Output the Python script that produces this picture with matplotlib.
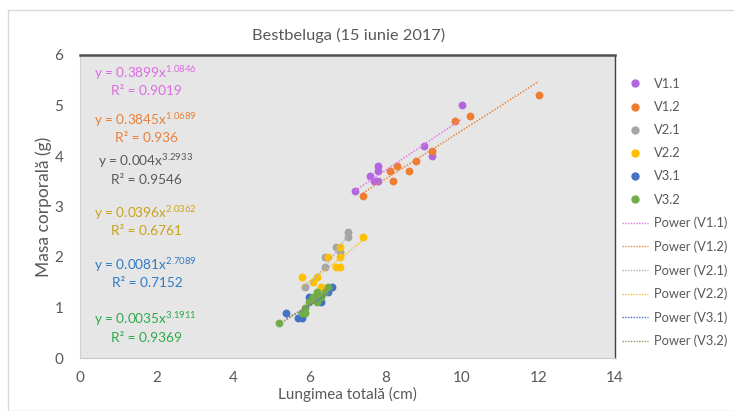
import numpy as np
import matplotlib.pyplot as plt
from matplotlib.patches import Rectangle
from matplotlib.lines import Line2D

plt.rcParams['font.family'] = ['Lato', 'DejaVu Sans']
plt.rcParams['mathtext.fontset'] = 'custom'
plt.rcParams['mathtext.rm'] = 'Lato'
plt.rcParams['mathtext.it'] = 'Lato:italic'

# lungime totala (cm) / masa corporala (g) per lot
v11_x = [7.2, 7.6, 7.7, 7.8, 7.8, 7.8, 9.0, 9.2, 10.0]
v11_y = [3.3, 3.6, 3.5, 3.5, 3.7, 3.8, 4.2, 4.0, 5.0]
v12_x = [7.4, 8.1, 8.2, 8.3, 8.6, 8.8, 9.2, 9.8, 10.2, 12.0]
v12_y = [3.2, 3.7, 3.5, 3.8, 3.7, 3.9, 4.1, 4.7, 4.8, 5.2]
v21_x = [5.9, 6.4, 6.4, 6.7, 6.8, 7.0, 7.0]
v21_y = [1.4, 1.8, 2.0, 2.2, 2.1, 2.4, 2.5]
v22_x = [5.8, 6.1, 6.2, 6.3, 6.5, 6.7, 6.8, 6.8, 6.8, 7.4]
v22_y = [1.6, 1.5, 1.6, 1.4, 2.0, 1.8, 1.8, 2.0, 2.2, 2.4]
v31_x = [5.4, 5.7, 5.8, 6.0, 6.2, 6.3, 6.5, 6.6]
v31_y = [0.9, 0.8, 0.8, 1.2, 1.2, 1.1, 1.3, 1.4]
v32_x = [5.2, 5.8, 5.9, 5.9, 6.0, 6.1, 6.2, 6.2, 6.3, 6.4, 6.5]
v32_y = [0.7, 0.9, 0.9, 1.0, 1.1, 1.2, 1.3, 1.1, 1.2, 1.3, 1.4]

names = ['V1.1', 'V1.2', 'V2.1', 'V2.2', 'V3.1', 'V3.2']
xs = [v11_x, v12_x, v21_x, v22_x, v31_x, v32_x]
ys = [v11_y, v12_y, v21_y, v22_y, v31_y, v32_y]

# coeficientii functiei putere y = a * x^b si R^2
coef_a = [0.3899, 0.3845, 0.004, 0.0396, 0.0081, 0.0035]
coef_b = [1.0846, 1.0689, 3.2933, 2.0362, 2.7089, 3.1911]
a_txt = ['0.3899', '0.3845', '0.004', '0.0396', '0.0081', '0.0035']
b_txt = ['1.0846', '1.0689', '3.2933', '2.0362', '2.7089', '3.1911']
r2_txt = ['0.9019', '0.936', '0.9546', '0.6761', '0.7152', '0.9369']

marker_col = ['#B366E0', '#ED7D31', '#A5A5A5', '#FFC000', '#4472C4', '#70AD47']
trend_col = ['#E27AE8', '#E8883F', '#B0B0B0', '#F2C23A', '#4A6FC8', '#A09060']
label_col = ['#DD6BE3', '#E8803A', '#5A5A5A', '#C9A21A', '#2F7AC6', '#2DAA4A']
eq_y = [5.65, 4.72, 3.9, 2.88, 1.85, 0.77]

fig = plt.figure(figsize=(7.34, 4.11), dpi=100)
fig.patches.append(Rectangle((8 / 734, 0), 1, 1 - 10 / 411, transform=fig.transFigure,
                             fill=False, edgecolor='#d9d9d9', linewidth=1))
ax = fig.add_axes([80 / 734, 53 / 411, 535 / 734, 303 / 411])
ax.set_facecolor('#e7e6e6')

for i in range(6):
    ax.scatter(xs[i], ys[i], s=32, color=marker_col[i], zorder=3, linewidths=0)
for i in range(6):
    xx = np.linspace(min(xs[i]), max(xs[i]), 100)
    ax.plot(xx, coef_a[i] * xx ** coef_b[i], color=trend_col[i], lw=1.1,
            linestyle=(0, (1, 1)), zorder=4)

for i in range(6):
    ax.text(1.72, eq_y[i], 'y = ' + a_txt[i] + 'x$^{\\mathrm{' + b_txt[i] + '}}$',
            color=label_col[i], fontsize=9.8, ha='center', va='center')
    ax.text(1.75, eq_y[i] - 0.37, 'R² = ' + r2_txt[i],
            color=label_col[i], fontsize=9.8, ha='center', va='center')

ax.set_xlim(0, 14)
ax.set_ylim(0, 6)
ax.set_xticks(range(0, 15, 2))
ax.set_yticks(range(0, 7))
ax.tick_params(length=0, labelsize=11, labelcolor='#595959')
ax.tick_params(axis='y', pad=12)
ax.tick_params(axis='x', pad=9)
ax.spines['top'].set_color('#505050')
ax.spines['top'].set_linewidth(1.8)
ax.spines['right'].set_color('#404040')
ax.spines['right'].set_linewidth(1.0)
ax.spines['bottom'].set_color('#c8c8c8')
ax.spines['left'].set_color('#d0d0d0')
ax.set_xlabel('Lungimea totală (cm)', fontsize=11, color='#595959', labelpad=2)
ax.set_ylabel('Masa corporală (g)', fontsize=12.5, color='#595959', labelpad=2)
fig.text(349 / 734, 1 - 35 / 411, 'Bestbeluga (15 iunie 2017)', fontsize=11.8,
         color='#595959', ha='center', va='center')

handles = [Line2D([], [], marker='o', ls='none', color=c, markersize=5) for c in marker_col]
handles += [Line2D([], [], color=c, lw=1, linestyle=(0, (1, 1))) for c in trend_col]
labels = names + ['Power (' + n + ')' for n in names]
fig.legend(handles, labels, loc='upper left', bbox_to_anchor=(622 / 734, 1 - 78 / 411),
           frameon=False, fontsize=9.3, labelcolor='#595959', handlelength=2.0,
           handletextpad=0.5, labelspacing=0.86, borderaxespad=0, borderpad=0)

fig.savefig('out.png', dpi=100)
